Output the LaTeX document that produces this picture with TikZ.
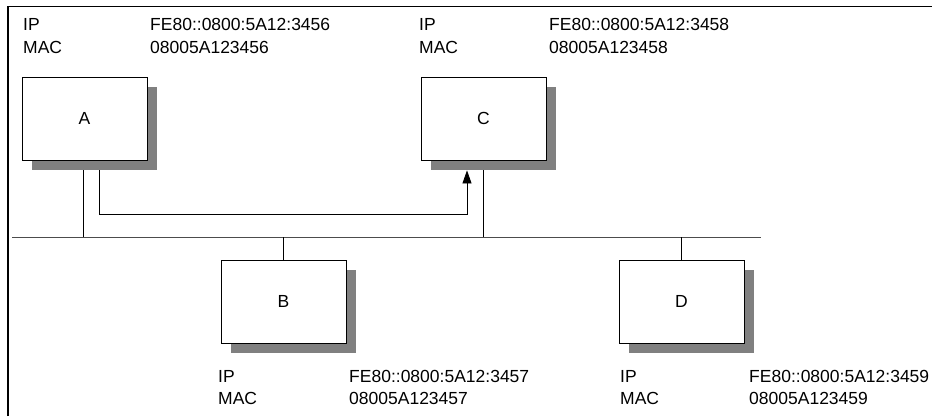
\documentclass[tikz,border=0pt]{standalone}
\usepackage{fontspec}
\setmainfont{Liberation Sans}
\usetikzlibrary{shadows,arrows.meta}
\begin{document}
\begin{tikzpicture}[x=1pt,y=-1pt,
  every node/.style={font=\fontsize{17.5}{21}\selectfont},
  host/.style={draw=black,line width=0.8pt,fill=white,minimum width=125pt,minimum height=83pt,inner sep=0pt,
    drop shadow={shadow xshift=10pt,shadow yshift=-10pt,fill=black!50,opacity=1}},
  lbl/.style={anchor=base west,inner sep=0pt},
  wire/.style={line width=0.8pt,black},
  buswire/.style={line width=1pt,black!70}]
\useasboundingbox (0,0) rectangle (932,416);
\draw[line width=1.6pt] (8,416) -- (8,6.5) -- (932,6.5);
% hosts
\node[host] (A) at (84.5,118.5) {A};
\node[host] (C) at (483.5,118.5) {C};
\node[host] (B) at (283.5,301.5) {B};
\node[host] (D) at (681.5,301.5) {D};
% labels
\node[lbl] (Aip) at (23,30) {IP};
\node[lbl] (Aipv) at (150,30) {FE80::0800:5A12:3456};
\node[lbl] (Amac) at (23,53) {MAC};
\node[lbl] (Amacv) at (150,53) {08005A123456};
\node[lbl] (Cip) at (419,30) {IP};
\node[lbl] (Cipv) at (549,30) {FE80::0800:5A12:3458};
\node[lbl] (Cmac) at (419,53) {MAC};
\node[lbl] (Cmacv) at (549,53) {08005A123458};
\node[lbl] (Bip) at (218,382) {IP};
\node[lbl] (Bipv) at (349,382) {FE80::0800:5A12:3457};
\node[lbl] (Bmac) at (218,404) {MAC};
\node[lbl] (Bmacv) at (349,404) {08005A123457};
\node[lbl] (Dip) at (620,382) {IP};
\node[lbl] (Dipv) at (749,382) {FE80::0800:5A12:3459};
\node[lbl] (Dmac) at (620,404) {MAC};
\node[lbl] (Dmacv) at (749,404) {08005A123459};
% bus
\coordinate (busL) at (12,237);
\coordinate (busR) at (761,237);
\draw[buswire] (busL) -- (busR);
% stems
\draw[wire] ([xshift=-1.5pt,yshift=-10pt]A.south) -- ([xshift=-1.5pt]A.south |- busL);
\draw[wire] ([xshift=-0.5pt,yshift=-10pt]C.south) -- ([xshift=-0.5pt]C.south |- busL);
\draw[wire] (B.north) -- (B.north |- busL);
\draw[wire] (D.north) -- (D.north |- busL);
% path A -> C
\coordinate (turnA) at (99,214);
\draw[wire,-{Triangle[length=13pt,width=9pt]}] ([xshift=14.5pt,yshift=-10pt]A.south) -- (turnA) -- ([xshift=-16.5pt]C.south |- turnA) -- ([xshift=-16.5pt,yshift=-10pt]C.south);
\end{tikzpicture}
\end{document}
